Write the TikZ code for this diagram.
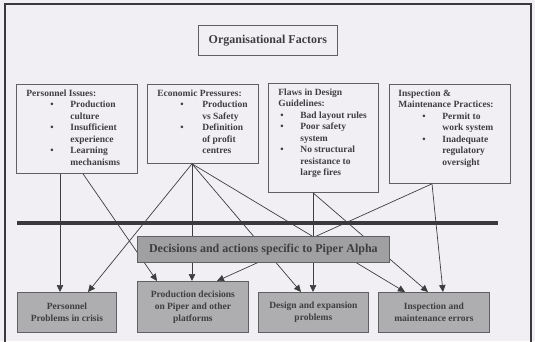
\documentclass[tikz,border=0pt]{standalone}
\usepackage{fontspec}
\setmainfont{Liberation Serif}
\usetikzlibrary{arrows.meta}
\definecolor{paper}{RGB}{241,239,243}
\definecolor{framegray}{RGB}{58,58,60}
\definecolor{ink}{RGB}{62,62,64}
\definecolor{boxfill}{RGB}{174,174,176}
\definecolor{boxline}{RGB}{96,96,98}
\newcommand{\bul}[1][24pt]{\hspace*{#1}\textbullet}
\newcommand{\factorfont}{\fontsize{9.5pt}{11.5pt}\selectfont\bfseries}
\tikzset{
  factor/.style={draw=boxline,line width=0.8pt,anchor=north west,inner sep=0pt,text=ink,font=\factorfont},
  outcome/.style={draw=boxline,fill=boxfill,line width=0.8pt,anchor=north west,inner sep=0pt,align=center,text=ink,font=\fontsize{9.5pt}{12pt}\selectfont\bfseries},
  link/.style={draw=ink,line width=0.7pt,-{Triangle[length=7pt,width=6.5pt]}}
}
\begin{document}
\begin{tikzpicture}[x=1pt,y=-1pt]
\useasboundingbox (0,0) rectangle (535,341);
\fill[paper] (0,0) rectangle (535,341);
\draw[framegray,line width=2.4pt] (5,345)--(5,4)--(531,4)--(531,345);

\node[factor,minimum width=139pt,minimum height=30pt,font=\fontsize{12pt}{14pt}\selectfont\bfseries] (org) at (198,25) {Organisational Factors};

\node[factor] (pers) at (16,84) {\parbox[c][89pt][t]{121pt}{\vspace*{4pt}%
  \begin{tabular}{@{\hspace{10pt}}p{44pt}@{}l@{}}
  \multicolumn{2}{@{\hspace{10pt}}l@{}}{Personnel Issues:}\\
  \bul & Production\\ & culture\\
  \bul & Insufficient\\ & experience\\
  \bul & Learning\\ & mechanisms
  \end{tabular}}};
\node[factor] (econ) at (147,84) {\parbox[c][79pt][t]{111pt}{\vspace*{4pt}%
  \begin{tabular}{@{\hspace{10pt}}p{45pt}@{}l@{}}
  \multicolumn{2}{@{\hspace{10pt}}l@{}}{Economic Pressures:}\\
  \bul[23pt] & Production\\ & vs Safety\\
  \bul[23pt] & Definition\\ & of profit\\ & centres
  \end{tabular}}};
\node[factor] (flaws) at (268,83) {\parbox[c][109pt][t]{110pt}{\vspace*{4pt}%
  \begin{tabular}{@{\hspace{10pt}}p{22pt}@{}l@{}}
  \multicolumn{2}{@{\hspace{10pt}}l@{}}{Flaws in Design}\\
  \multicolumn{2}{@{\hspace{10pt}}l@{}}{Guidelines:}\\
  \bul[2pt] & Bad layout rules\\
  \bul[2pt] & Poor safety\\ & system\\
  \bul[2pt] & No structural\\ & resistance to\\ & large fires
  \end{tabular}}};
\node[factor] (insp) at (389,84) {\parbox[c][99pt][t]{121pt}{\vspace*{4pt}%
  \begin{tabular}{@{\hspace{9pt}}p{44pt}@{}l@{}}
  \multicolumn{2}{@{\hspace{9pt}}l@{}}{Inspection \&}\\
  \multicolumn{2}{@{\hspace{9pt}}l@{}}{Maintenance Practices:}\\
  \bul & Permit to\\ & work system\\
  \bul & Inadequate\\ & regulatory\\ & oversight
  \end{tabular}}};

\node[outcome,minimum width=99pt,minimum height=40pt] (probs) at (17,292) {Personnel\\Problems in crisis};
\node[outcome,minimum width=111pt,minimum height=51pt] (prod) at (137,281) {Production decisions\\on Piper and other\\platforms};
\node[outcome,minimum width=110pt,minimum height=40pt] (design) at (258,292) {Design and expansion\\problems};
\node[outcome,minimum width=111pt,minimum height=40pt] (errors) at (378,292) {Inspection and\\maintenance errors};

\draw[link] ([xshift=44pt]pers.south west) -- ([xshift=43pt]probs.north west);
\draw[link] ([xshift=67pt]pers.south west) -- ([xshift=20pt]prod.north west);
\draw[link] ([xshift=45pt]econ.south west) -- ([xshift=71pt]probs.north west);
\draw[link] ([xshift=45pt]econ.south west) -- ([xshift=55pt]prod.north west);
\draw[link] ([xshift=45pt]econ.south west) -- ([xshift=43pt]design.north west);
\draw[link] ([xshift=45pt]econ.south west) -- ([xshift=27pt]errors.north west);
\draw[link] ([xshift=45pt]flaws.south west) -- ([xshift=55pt]design.north west);
\draw[link] ([xshift=45pt]flaws.south west) -- ([xshift=50pt]errors.north west);
\draw[link] ([xshift=43pt]insp.south west) -- ([xshift=80pt]prod.north west);
\draw[link] ([xshift=43pt]insp.south west) -- ([xshift=65pt]errors.north west);

\draw[framegray,line width=3.5pt] (17,223) -- (498,223);
\node[outcome,minimum width=252pt,minimum height=26pt,font=\fontsize{12pt}{14pt}\selectfont\bfseries,fill=boxfill!92!black] (deci) at (137,236) {Decisions and actions specific to Piper Alpha};
\end{tikzpicture}
\end{document}
